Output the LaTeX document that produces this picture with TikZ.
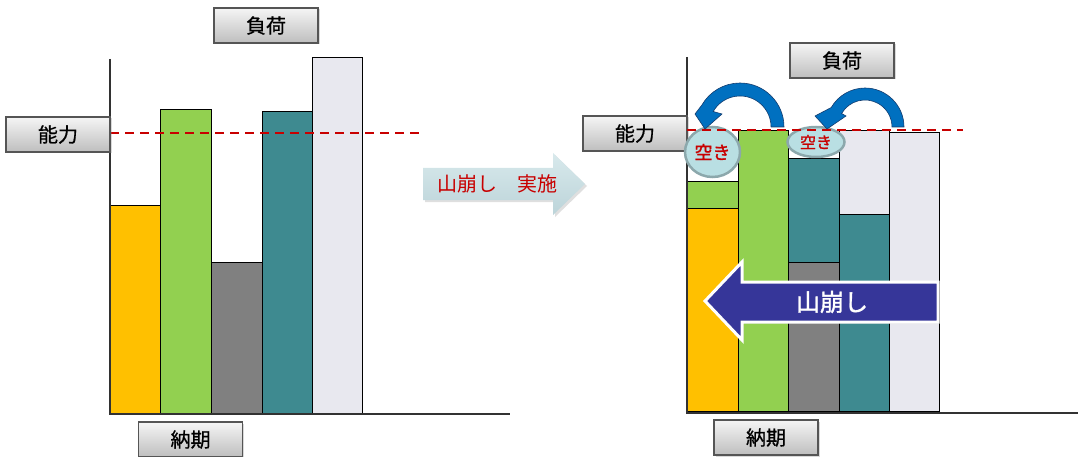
\documentclass[tikz,border=0pt]{standalone}
\usepackage{fontspec}
\setmainfont{Noto Sans CJK JP}
\newfontfamily\jpb[FakeBold=1.5]{Noto Sans CJK JP}
\newfontfamily\jpm[FakeBold=0.6]{Noto Sans CJK JP}
\usetikzlibrary{shapes.geometric,shadows}
\definecolor{cyel}{RGB}{255,192,0}
\definecolor{cgrn}{RGB}{146,208,80}
\definecolor{cgry}{RGB}{128,128,128}
\definecolor{cteal}{RGB}{62,138,144}
\definecolor{clav}{RGB}{232,232,239}
\definecolor{cred}{RGB}{200,0,0}
\definecolor{cblue}{RGB}{0,112,192}
\definecolor{cblued}{RGB}{20,60,110}
\definecolor{cpurp}{RGB}{54,54,153}
\definecolor{cell}{RGB}{185,223,227}
\definecolor{cellb}{RGB}{140,168,172}
\definecolor{carrtop}{RGB}{216,233,236}
\definecolor{carrbot}{RGB}{188,212,217}
\tikzset{
  lbl/.style={draw={rgb,255:red,85;green,85;blue,85}, line width=1.3pt,
    top color={rgb,255:red,245;green,245;blue,245}, bottom color={rgb,255:red,190;green,190;blue,190},
    minimum width=104pt, minimum height=35pt, inner sep=0pt,
    font=\jpm\fontsize{20}{23}\selectfont,
    drop shadow={shadow xshift=1.5pt, shadow yshift=-1.5pt, opacity=0.3}},
  barbox/.style={draw=black, line width=0.9pt},
  capline/.style={draw=cred, line width=2pt, dash pattern=on 9pt off 6pt},
  axisline/.style={draw={rgb,255:red,50;green,50;blue,50}, line width=1.2pt},
  akibox/.style={ellipse, draw=cellb, line width=2.5pt, fill=cell, inner sep=0pt, text=cred},
  curvarr/.style={fill=cblue, draw=cblued, line width=0.6pt},
}
\begin{document}
\begin{tikzpicture}[x=1pt,y=-1pt]
\useasboundingbox (0,0) rectangle (1078,457);
% ---------------- left chart ----------------
\draw[barbox, fill=cyel]  (110,205) rectangle (160,413);
\draw[barbox, fill=cgrn]  (160,109) rectangle (211,413);
\draw[barbox, fill=cgry]  (211,262) rectangle (262,413);
\draw[barbox, fill=cteal] (262,111) rectangle (312,413);
\draw[barbox, fill=clav]  (312,57)  rectangle (362,413);
\draw[axisline] (110,59) -- (110,414);
\draw[axisline] (109,414) -- (510,414);
\draw[capline] (110,133) -- (424,133);
\node[lbl] (Lload) at (266,25.5) {負荷};
\node[lbl] (Lcap) at (58,134.5) {能力};
\node[lbl] (Ldue) at (190.5,439.5) {納期};
% ---------------- middle arrow ----------------
\path[top color=carrtop, bottom color=carrbot,
  drop shadow={shadow xshift=2pt, shadow yshift=-2pt, opacity=0.25}]
  (423,168) -- (553,168) -- (553,153) -- (585,184) -- (553,215) -- (553,200) -- (423,200) -- cycle;
\node[text=cred, font=\fontsize{20}{23}\selectfont] (doit) at (497,184) {山崩し　実施};
% ---------------- right chart ----------------
\draw[barbox, fill=cyel]  (687,208) rectangle (738,411);
\draw[barbox, fill=cgrn]  (687,181) rectangle (738,208);
\draw[barbox, fill=cgrn]  (738,130) rectangle (788,411);
\draw[barbox, fill=cgry]  (788,262) rectangle (839,411);
\draw[barbox, fill=cteal] (788,158) rectangle (839,262);
\draw[barbox, fill=cteal] (839,214) rectangle (889,411);
\draw[barbox, fill=clav]  (839,130) rectangle (889,214);
\draw[barbox, fill=clav]  (889,132) rectangle (939,411);
\draw[axisline] (687,57) -- (687,413);
\draw[axisline] (686,413) -- (1078,413);
\node[lbl] (Rload) at (842,60.5) {負荷};
\node[lbl] (Rcap) at (635,133.5) {能力};
\node[lbl] (Rdue) at (766,437.5) {納期};
% empty slots
\node[akibox, minimum width=55pt, minimum height=50pt, font=\jpb\fontsize{18}{20}\selectfont] (aki1) at (712.5,152) {空き};
\node[akibox, minimum width=57pt, minimum height=30pt, font=\jpb\fontsize{16}{18}\selectfont] (aki2) at (816,142) {空き};
\draw[capline] (687,130) -- (963,130);
% curved arrows
\path[curvarr] (784,127) arc[start angle=0, end angle=-150, radius=44]
  -- (695,114) -- (705,129) -- (722,114) -- (713.2,111.5)
  arc[start angle=-150, end angle=0, radius=31] -- cycle;
\path[curvarr] (904,127) arc[start angle=0, end angle=-150, radius=39]
  -- (815,116) -- (827,129) -- (846,116) -- (841.6,113.5)
  arc[start angle=-150, end angle=0, radius=27] -- cycle;
% leveling arrow
\path[fill=cpurp, draw=white, line width=3pt, line join=miter,
  drop shadow={shadow xshift=1.5pt, shadow yshift=-1.5pt, opacity=0.35}]
  (705,301) -- (742,262) -- (742,282) -- (938,282) -- (938,322) -- (742,322) -- (742,340) -- cycle;
\node[text=white, font=\jpb\fontsize{24}{27}\selectfont] (level) at (832,302) {山崩し};
\end{tikzpicture}
\end{document}
